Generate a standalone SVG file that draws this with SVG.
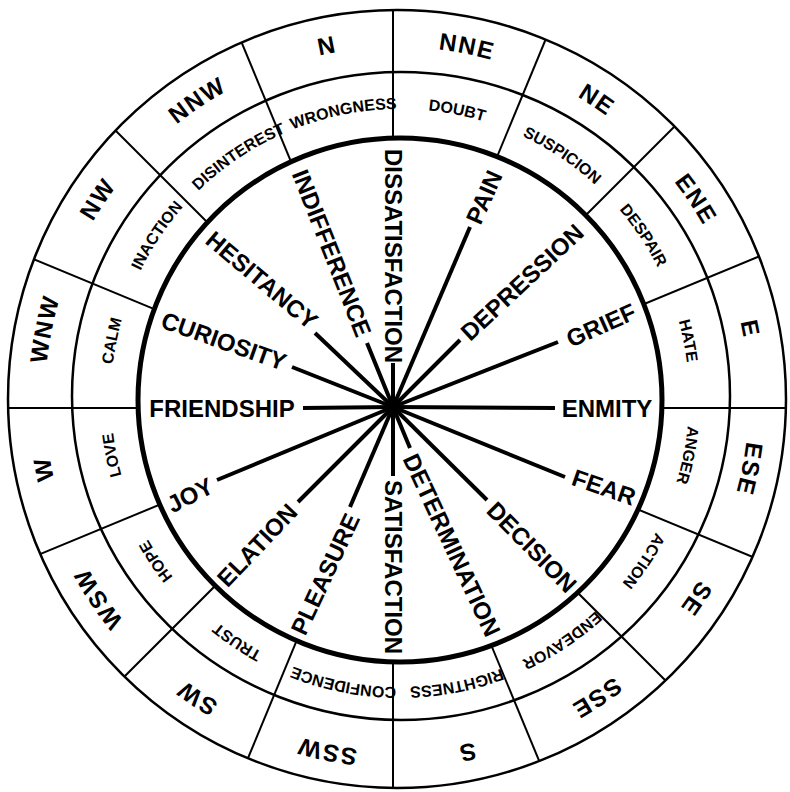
<svg xmlns="http://www.w3.org/2000/svg" width="790" height="792" viewBox="0 0 790 792">
<style>
.ring{fill:none;stroke:#000;stroke-width:2.5}
.thick{fill:none;stroke:#000;stroke-width:5}
.div{stroke:#000;stroke-width:2}
.spoke{stroke:#000;stroke-width:4}
.emo{font-family:"Liberation Sans",Arial,sans-serif;font-weight:bold;font-size:24px;text-anchor:middle;fill:#000}
.dir{font-family:"Liberation Sans",Arial,sans-serif;font-weight:bold;font-size:24px;letter-spacing:1.5px;text-anchor:middle;fill:#000}
.mid{font-family:"Liberation Sans",Arial,sans-serif;font-weight:bold;font-size:16px;text-anchor:middle;fill:#000}
</style>
<defs>
<path id="pDir" d="M397,47 A352,352 0 0 1 397,751 A352,352 0 0 1 397,47"/>
<path id="pMid" d="M400,109 A289,289 0 0 1 400,687 A289,289 0 0 1 400,109"/>
<mask id="ann"><circle cx="397" cy="399" r="389" fill="#fff"/><circle cx="400" cy="400" r="262" fill="#000"/></mask>
</defs>
<rect width="790" height="792" fill="#fff"/>

<g id="rings">
<circle class="ring" cx="397" cy="399" r="389"/>
<ellipse class="ring" cx="401" cy="396" rx="329" ry="324"/>
<circle class="thick" cx="400" cy="400" r="262"/>
</g>

<g id="dividers" mask="url(#ann)">
<line class="div" x1="393" y1="408" x2="393" y2="-12"/>
<line class="div" x1="393" y1="408" x2="553.7" y2="20"/>
<line class="div" x1="393" y1="408" x2="690" y2="111"/>
<line class="div" x1="393" y1="408" x2="781" y2="247.3"/>
<line class="div" x1="393" y1="408" x2="813" y2="408"/>
<line class="div" x1="393" y1="408" x2="781" y2="568.7"/>
<line class="div" x1="393" y1="408" x2="690" y2="705"/>
<line class="div" x1="393" y1="408" x2="553.7" y2="796"/>
<line class="div" x1="393" y1="408" x2="393" y2="828"/>
<line class="div" x1="393" y1="408" x2="232.3" y2="796"/>
<line class="div" x1="393" y1="408" x2="96" y2="705"/>
<line class="div" x1="393" y1="408" x2="5" y2="568.7"/>
<line class="div" x1="393" y1="408" x2="-27" y2="408"/>
<line class="div" x1="393" y1="408" x2="5" y2="247.3"/>
<line class="div" x1="393" y1="408" x2="96" y2="111"/>
<line class="div" x1="393" y1="408" x2="232.3" y2="20"/>
</g>

<g id="directions">
<text class="dir"><textPath href="#pDir" startOffset="96.875%">N</textPath></text>
<text class="dir"><textPath href="#pDir" startOffset="3.125%">NNE</textPath></text>
<text class="dir"><textPath href="#pDir" startOffset="9.375%">NE</textPath></text>
<text class="dir"><textPath href="#pDir" startOffset="15.625%">ENE</textPath></text>
<text class="dir"><textPath href="#pDir" startOffset="21.875%">E</textPath></text>
<text class="dir"><textPath href="#pDir" startOffset="28.125%">ESE</textPath></text>
<text class="dir"><textPath href="#pDir" startOffset="34.375%">SE</textPath></text>
<text class="dir"><textPath href="#pDir" startOffset="40.625%">SSE</textPath></text>
<text class="dir"><textPath href="#pDir" startOffset="46.875%">S</textPath></text>
<text class="dir"><textPath href="#pDir" startOffset="53.125%">SSW</textPath></text>
<text class="dir"><textPath href="#pDir" startOffset="59.375%">SW</textPath></text>
<text class="dir"><textPath href="#pDir" startOffset="65.625%">WSW</textPath></text>
<text class="dir"><textPath href="#pDir" startOffset="71.875%">W</textPath></text>
<text class="dir"><textPath href="#pDir" startOffset="78.125%">WNW</textPath></text>
<text class="dir"><textPath href="#pDir" startOffset="84.375%">NW</textPath></text>
<text class="dir"><textPath href="#pDir" startOffset="90.625%">NNW</textPath></text>
</g>

<g id="middle">
<text class="mid"><textPath href="#pMid" startOffset="96.875%">WRONGNESS</textPath></text>
<text class="mid"><textPath href="#pMid" startOffset="3.125%">DOUBT</textPath></text>
<text class="mid"><textPath href="#pMid" startOffset="9.375%">SUSPICION</textPath></text>
<text class="mid"><textPath href="#pMid" startOffset="15.625%">DESPAIR</textPath></text>
<text class="mid"><textPath href="#pMid" startOffset="21.875%">HATE</textPath></text>
<text class="mid"><textPath href="#pMid" startOffset="28.125%">ANGER</textPath></text>
<text class="mid"><textPath href="#pMid" startOffset="34.375%">ACTION</textPath></text>
<text class="mid"><textPath href="#pMid" startOffset="40.625%">ENDEAVOR</textPath></text>
<text class="mid"><textPath href="#pMid" startOffset="46.875%">RIGHTNESS</textPath></text>
<text class="mid"><textPath href="#pMid" startOffset="53.125%">CONFIDENCE</textPath></text>
<text class="mid"><textPath href="#pMid" startOffset="59.375%">TRUST</textPath></text>
<text class="mid"><textPath href="#pMid" startOffset="65.625%">HOPE</textPath></text>
<text class="mid"><textPath href="#pMid" startOffset="71.875%">LOVE</textPath></text>
<text class="mid"><textPath href="#pMid" startOffset="78.125%">CALM</textPath></text>
<text class="mid"><textPath href="#pMid" startOffset="84.375%">INACTION</textPath></text>
<text class="mid"><textPath href="#pMid" startOffset="90.625%">DISINTEREST</textPath></text>
</g>

<g id="connectors">
<line class="spoke" x1="393" y1="407" x2="393" y2="363"/>
<line class="spoke" x1="393" y1="407" x2="470" y2="227"/>
<line class="spoke" x1="393" y1="407" x2="460" y2="340"/>
<line class="spoke" x1="393" y1="407" x2="558" y2="342"/>
<line class="spoke" x1="393" y1="407" x2="555" y2="408"/>
<line class="spoke" x1="393" y1="407" x2="565" y2="477"/>
<line class="spoke" x1="393" y1="407" x2="487" y2="500"/>
<line class="spoke" x1="393" y1="407" x2="410" y2="448"/>
<line class="spoke" x1="393" y1="407" x2="393" y2="476"/>
<line class="spoke" x1="393" y1="407" x2="350" y2="507"/>
<line class="spoke" x1="393" y1="407" x2="298" y2="502"/>
<line class="spoke" x1="393" y1="407" x2="217" y2="480"/>
<line class="spoke" x1="393" y1="407" x2="303" y2="408"/>
<line class="spoke" x1="393" y1="407" x2="292" y2="367"/>
<line class="spoke" x1="393" y1="407" x2="315" y2="333"/>
<line class="spoke" x1="393" y1="407" x2="367" y2="343"/>
<circle cx="393" cy="407" r="7" fill="#000"/>
</g>

<g id="n-dissatisfaction"><text class="emo" transform="translate(394,256) rotate(90)" y="8.6">DISSATISFACTION</text></g>
<g id="n-pain"><text class="emo" transform="translate(484,197) rotate(-66)" y="8.6">PAIN</text></g>
<g id="n-depression"><text class="emo" transform="translate(522,282) rotate(-43)" y="8.6">DEPRESSION</text></g>
<g id="n-grief"><text class="emo" transform="translate(601,325) rotate(-24)" y="8.6">GRIEF</text></g>
<g id="n-enmity"><text class="emo" transform="translate(607,408)" y="8.6">ENMITY</text></g>
<g id="n-fear"><text class="emo" transform="translate(604,487) rotate(19)" y="8.6">FEAR</text></g>
<g id="n-decision"><text class="emo" transform="translate(532,547) rotate(45.5)" y="8.6">DECISION</text></g>
<g id="n-determination"><text class="emo" transform="translate(452,545) rotate(65)" y="8.6">DETERMINATION</text></g>
<g id="n-satisfaction"><text class="emo" transform="translate(394,567) rotate(90)" y="8.6">SATISFACTION</text></g>
<g id="n-pleasure"><text class="emo" transform="translate(325,574) rotate(-65)" y="8.6">PLEASURE</text></g>
<g id="n-elation"><text class="emo" transform="translate(257,545) rotate(-46.5)" y="8.6">ELATION</text></g>
<g id="n-joy"><text class="emo" transform="translate(190,495) rotate(-27)" y="8.6">JOY</text></g>
<g id="n-friendship"><text class="emo" transform="translate(222,408)" y="8.6">FRIENDSHIP</text></g>
<g id="n-curiosity"><text class="emo" transform="translate(224,341) rotate(19.5)" y="8.6">CURIOSITY</text></g>
<g id="n-hesitancy"><text class="emo" transform="translate(262,280) rotate(40)" y="8.6">HESITANCY</text></g>
<g id="n-indifference"><text class="emo" transform="translate(332,253) rotate(68.5)" y="8.6">INDIFFERENCE</text></g>
</svg>
